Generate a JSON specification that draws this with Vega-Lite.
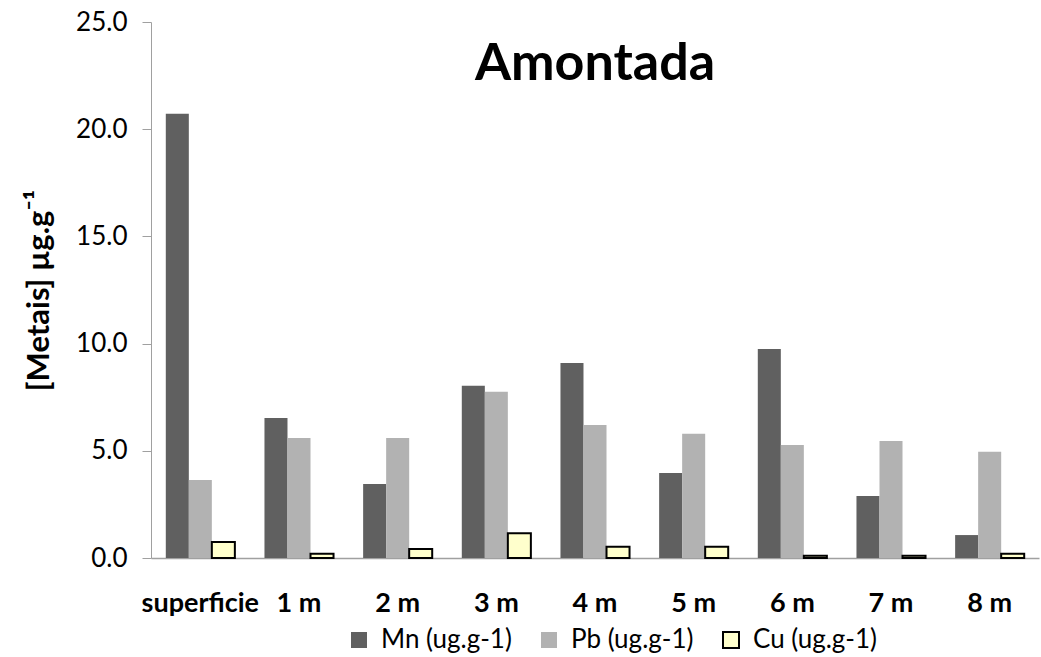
{
  "$schema": "https://vega.github.io/schema/vega-lite/v6.json",
  "autosize": {"type": "none"},
  "width": 888,
  "height": 536,
  "padding": {"left": 151, "top": 22, "right": 2, "bottom": 99},
  "background": "white",
  "config": {"font": "Lato", "view": {"stroke": null}},
  "title": {"text": "Amontada", "fontSize": 52, "fontWeight": "bold", "font": "Lato", "color": "#000", "anchor": "middle", "baseline": "alphabetic", "offset": -123},
  "data": {"values": [
    {"prof": "superficie", "metal": "Mn (ug.g-1)", "v": 20.72},
    {"prof": "superficie", "metal": "Pb (ug.g-1)", "v": 3.64},
    {"prof": "superficie", "metal": "Cu (ug.g-1)", "v": 0.75},
    {"prof": "1 m", "metal": "Mn (ug.g-1)", "v": 6.53},
    {"prof": "1 m", "metal": "Pb (ug.g-1)", "v": 5.6},
    {"prof": "1 m", "metal": "Cu (ug.g-1)", "v": 0.2},
    {"prof": "2 m", "metal": "Mn (ug.g-1)", "v": 3.45},
    {"prof": "2 m", "metal": "Pb (ug.g-1)", "v": 5.6},
    {"prof": "2 m", "metal": "Cu (ug.g-1)", "v": 0.42},
    {"prof": "3 m", "metal": "Mn (ug.g-1)", "v": 8.03},
    {"prof": "3 m", "metal": "Pb (ug.g-1)", "v": 7.75},
    {"prof": "3 m", "metal": "Cu (ug.g-1)", "v": 1.15},
    {"prof": "4 m", "metal": "Mn (ug.g-1)", "v": 9.1},
    {"prof": "4 m", "metal": "Pb (ug.g-1)", "v": 6.2},
    {"prof": "4 m", "metal": "Cu (ug.g-1)", "v": 0.52},
    {"prof": "5 m", "metal": "Mn (ug.g-1)", "v": 3.97},
    {"prof": "5 m", "metal": "Pb (ug.g-1)", "v": 5.79},
    {"prof": "5 m", "metal": "Cu (ug.g-1)", "v": 0.52},
    {"prof": "6 m", "metal": "Mn (ug.g-1)", "v": 9.75},
    {"prof": "6 m", "metal": "Pb (ug.g-1)", "v": 5.27},
    {"prof": "6 m", "metal": "Cu (ug.g-1)", "v": 0.1},
    {"prof": "7 m", "metal": "Mn (ug.g-1)", "v": 2.89},
    {"prof": "7 m", "metal": "Pb (ug.g-1)", "v": 5.46},
    {"prof": "7 m", "metal": "Cu (ug.g-1)", "v": 0.1},
    {"prof": "8 m", "metal": "Mn (ug.g-1)", "v": 1.07},
    {"prof": "8 m", "metal": "Pb (ug.g-1)", "v": 4.95},
    {"prof": "8 m", "metal": "Cu (ug.g-1)", "v": 0.2}
  ]},
  "mark": {"type": "bar", "strokeWidth": 2},
  "encoding": {
    "x": {"field": "prof", "type": "nominal", "sort": null,
      "scale": {"paddingInner": 0.3, "paddingOuter": 0.15},
      "axis": {"title": null, "labelAngle": 0, "labelFontSize": 27, "labelFontWeight": "bold", "labelColor": "#000", "labelFont": "Lato", "ticks": false, "domainColor": "#a0a0a0", "domainWidth": 1.5, "labelPadding": 32}},
    "xOffset": {"field": "metal", "type": "nominal", "sort": null, "scale": {"paddingInner": 0, "domain": ["Mn (ug.g-1)", "Pb (ug.g-1)", "Cu (ug.g-1)"]}},
    "y": {"field": "v", "type": "quantitative",
      "scale": {"domain": [0, 25], "nice": false},
      "axis": {"title": "[Metais] µg.g⁻¹", "titleFontSize": 31, "titleFontWeight": "bold", "titleColor": "#000", "titleFont": "Lato", "titlePadding": 20, "values": [0, 5, 10, 15, 20, 25], "format": ".1f", "labelFontSize": 26, "labelColor": "#000", "labelFont": "Lato", "labelPadding": 15, "tickSize": 9, "tickColor": "#a0a0a0", "domainColor": "#a0a0a0", "grid": false}},
    "color": {"field": "metal", "type": "nominal", "sort": null,
      "scale": {"domain": ["Mn (ug.g-1)", "Pb (ug.g-1)", "Cu (ug.g-1)"], "range": ["#606060", "#b2b2b2", "#ffffcc"]},
      "legend": {"title": null, "orient": "none", "legendX": 195, "legendY": 605, "direction": "horizontal", "symbolType": "square", "symbolSize": 256, "symbolStrokeWidth": 2, "labelFontSize": 26, "labelFont": "Lato", "labelColor": "#000", "labelOffset": 9, "columnPadding": 24}},
    "stroke": {"field": "metal", "type": "nominal", "sort": null,
      "scale": {"domain": ["Mn (ug.g-1)", "Pb (ug.g-1)", "Cu (ug.g-1)"], "range": ["rgba(0,0,0,0)", "rgba(0,0,0,0)", "#000000"]}}
  }
}
